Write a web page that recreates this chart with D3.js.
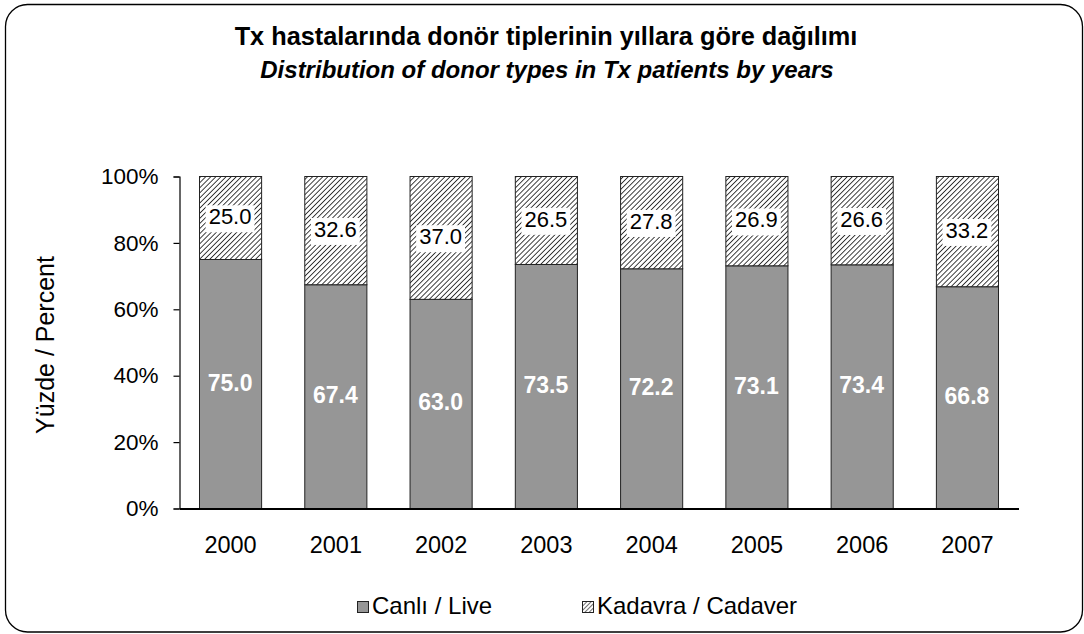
<!DOCTYPE html>
<html>
<head>
<meta charset="utf-8">
<script src="https://cdn.jsdelivr.net/npm/d3@7"></script>
<style>
  html, body { margin: 0; padding: 0; background: #fff; }
  svg { display: block; font-family: "Liberation Sans", Arial, sans-serif; }
</style>
</head>
<body>
<svg id="chart" width="1084" height="634"></svg>
<script>
// Donor type shares (%) per transplant year
const years = ["2000", "2001", "2002", "2003", "2004", "2005", "2006", "2007"];
const live = [75.0, 67.4, 63.0, 73.5, 72.2, 73.1, 73.4, 66.8];
const cadaver = [25.0, 32.6, 37.0, 26.5, 27.8, 26.9, 26.6, 33.2];
const yTicks = [0, 20, 40, 60, 80, 100];
const seriesNames = ["Canlı / Live", "Kadavra / Cadaver"];

(function () {
const svg = d3.select("#chart");
const W = 1084, H = 634;
const FONT = "Liberation Sans, Arial, sans-serif";

// Outer rounded frame
svg.append("rect")
  .attr("x", 5.5).attr("y", 4.5)
  .attr("width", W - 7).attr("height", H - 6.5)
  .attr("rx", 22).attr("ry", 22)
  .attr("fill", "#fff").attr("stroke", "#000").attr("stroke-width", 1.3);

// Diagonal hatch for the cadaver series
const defs = svg.append("defs");
const pat = defs.append("pattern")
  .attr("id", "hatch")
  .attr("patternUnits", "userSpaceOnUse")
  .attr("width", 3.6).attr("height", 3.6)
  .attr("patternTransform", "rotate(45)");
pat.append("rect").attr("width", 3.6).attr("height", 3.6).attr("fill", "#fff");
pat.append("line")
  .attr("x1", 0).attr("y1", 0).attr("x2", 0).attr("y2", 3.6)
  .attr("stroke", "#111").attr("stroke-width", 1.6);

const pat2 = defs.append("pattern")
  .attr("id", "hatchSmall")
  .attr("patternUnits", "userSpaceOnUse")
  .attr("width", 3).attr("height", 3)
  .attr("patternTransform", "rotate(45)");
pat2.append("rect").attr("width", 3).attr("height", 3).attr("fill", "#fff");
pat2.append("line")
  .attr("x1", 0).attr("y1", 0).attr("x2", 0).attr("y2", 3)
  .attr("stroke", "#111").attr("stroke-width", 1.2);

// Titles
svg.append("text")
  .attr("x", 546).attr("y", 45)
  .attr("text-anchor", "middle")
  .attr("font-size", 25.3).attr("font-weight", "bold")
  .text("Tx hastalarında donör tiplerinin yıllara göre dağılımı");
svg.append("text")
  .attr("x", 547).attr("y", 78)
  .attr("text-anchor", "middle")
  .attr("font-size", 24).attr("font-weight", "bold").attr("font-style", "italic")
  .text("Distribution of donor types in Tx patients by years");

// Plot area
const plotLeft = 179, plotRight = 1018, plotTop = 176, plotBottom = 508;

const x = d3.scaleBand().domain(years).range([plotLeft, plotRight]).paddingInner(0.41).paddingOuter(0.19);
const y = d3.scaleLinear().domain([0, 100]).range([plotBottom, plotTop]);

const stacked = years.map((yr, i) => ({ year: yr, live: live[i], cadaver: cadaver[i] }));

// Live (bottom) segments
svg.append("g").selectAll("rect")
  .data(stacked).join("rect")
  .attr("x", d => x(d.year) + 0.5)
  .attr("y", d => y(d.live) + 0.5)
  .attr("width", x.bandwidth())
  .attr("height", d => y(0) - y(d.live))
  .attr("fill", "#969696").attr("stroke", "#222").attr("stroke-width", 1);

// Cadaver (top) segments
svg.append("g").selectAll("rect")
  .data(stacked).join("rect")
  .attr("x", d => x(d.year) + 0.5)
  .attr("y", d => y(d.live + d.cadaver) + 0.5)
  .attr("width", x.bandwidth())
  .attr("height", d => y(d.live) - y(d.live + d.cadaver))
  .attr("fill", "url(#hatch)").attr("stroke", "#222").attr("stroke-width", 1);

// Y axis
const yAxis = svg.append("g")
  .attr("transform", `translate(${plotLeft + 0.5},0.5)`)
  .call(d3.axisLeft(y).tickValues(yTicks).tickSize(6).tickPadding(15).tickFormat(d => d + "%"));
yAxis.select(".domain").attr("stroke", "#000").attr("stroke-width", 1.2);
yAxis.selectAll(".tick line").attr("stroke", "#000").attr("stroke-width", 1.2);
yAxis.selectAll(".tick text")
  .attr("font-size", 22.5).attr("fill", "#000").attr("font-family", FONT);

// X axis
const xAxis = svg.append("g")
  .attr("transform", `translate(0.5,${plotBottom + 0.5})`)
  .call(d3.axisBottom(x).tickSize(0).tickPadding(28));
xAxis.select(".domain").attr("stroke", "#000").attr("stroke-width", 2);
xAxis.selectAll(".tick text")
  .attr("font-size", 23.5).attr("fill", "#000").attr("font-family", FONT);

// Y axis title
svg.append("text")
  .attr("transform", "translate(54,345) rotate(-90)")
  .attr("text-anchor", "middle")
  .attr("font-size", 25)
  .text("Yüzde / Percent");

// Value labels: live shares in white bold
svg.append("g").selectAll("text")
  .data(stacked).join("text")
  .attr("x", d => x(d.year) + x.bandwidth() / 2)
  .attr("y", d => (y(0) + y(d.live)) / 2 + 1)
  .attr("text-anchor", "middle").attr("dominant-baseline", "middle")
  .attr("font-size", 23).attr("font-weight", "bold").attr("fill", "#fff")
  .text(d => d.live.toFixed(1));

// Value labels: cadaver shares on a white box
const cadG = svg.append("g");
stacked.forEach(d => {
  const cx = x(d.year) + x.bandwidth() / 2;
  const cy = (y(d.live) + y(d.live + d.cadaver)) / 2;
  const t = cadG.append("text")
    .attr("x", cx).attr("y", cy + 1)
    .attr("text-anchor", "middle").attr("dominant-baseline", "middle")
    .attr("font-size", 22).attr("fill", "#000")
    .text(d.cadaver.toFixed(1));
  const bb = t.node().getBBox();
  cadG.insert("rect", "text")
    .attr("x", bb.x - 3).attr("y", bb.y + 1)
    .attr("width", bb.width + 6).attr("height", bb.height + 2)
    .attr("fill", "#fff");
});

// Legend
const legend = svg.append("g");
const legItems = [
  { name: seriesNames[0], fill: "#969696", x: 357 },
  { name: seriesNames[1], fill: "url(#hatchSmall)", x: 582 }
];
legItems.forEach(it => {
  legend.append("rect")
    .attr("x", it.x + 0.5).attr("y", 601.5)
    .attr("width", 11).attr("height", 11)
    .attr("fill", it.fill).attr("stroke", "#222").attr("stroke-width", 1);
  legend.append("text")
    .attr("x", it.x + 15).attr("y", 614)
    .attr("font-size", 24)
    .text(it.name);
});
})();
</script>
</body>
</html>
